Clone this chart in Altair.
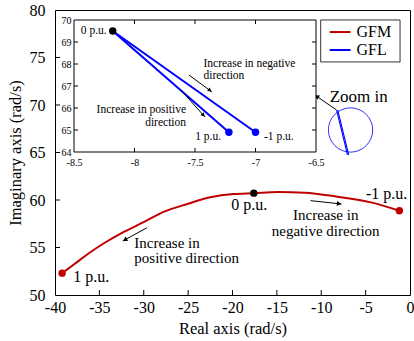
import math
import altair as alt
import pandas as pd

FONT = "Liberation Serif"
RED = "#c00000"
BLUE = "#0000ff"

# ---------------- data ----------------
# GFM locus (main axes)
gfm_re = [-39.2, -37.8, -36.3, -34.4, -32.55, -29.9, -27.7, -25.1, -22.5, -19.9, -17.6, -14.9, -11.9, -8.2, -4.4, -1.2]
gfm_im = [52.3, 53.26, 54.32, 55.5, 56.49, 57.72, 58.77, 59.58, 60.28, 60.63, 60.72, 60.84, 60.77, 60.35, 59.75, 58.87]
gfm_pt_re = [-39.2, -17.6, -1.2]
gfm_pt_im = [52.3, 60.72, 58.87]
gfm_pt_col = [RED, "black", RED]

# GFL locus (inset axes)
gfl_branch = ["pos", "pos", "neg", "neg"]
gfl_re = [-8.18, -7.22, -8.18, -7.0]
gfl_im = [69.5, 64.9, 69.5, 64.9]
gfl_pt_re = [-8.18, -7.22, -7.0]
gfl_pt_im = [69.5, 64.9, 64.9]
gfl_pt_col = ["black", BLUE, BLUE]

# main annotations
main_lab_left = {"x": [-37.95, -31.06, -31.06], "y": [51.93, 55.44, 53.86],
                 "t": ["1 p.u.", "Increase in", "positive direction"],
                 "s": [16, 15, 15]}
main_lab_center = {"x": [-18.1, -9.5, -9.5], "y": [59.47, 58.42, 56.74],
                   "t": ["0 p.u.", "Increase in", "negative direction"],
                   "s": [16, 15, 15]}
main_lab_right = {"x": [-0.3], "y": [60.63], "t": ["-1 p.u."], "s": [16]}
main_arrows = {"x0": [-11.21, -29.64, -8.27], "y0": [59.93, 57.08, 69.47],
               "x1": [-7.71, -32.37, -10.73], "y1": [59.58, 55.68, 71.05]}
zoom_text = {"x": [-9.05], "y": [70.84], "t": ["Zoom in"]}
zoom_circle = {"x": [-6.70], "y": [67.37]}
zoom_lines = {"x0": [-8.27, -8.14], "y0": [69.47, 69.47], "x1": [-7.04, -6.91], "y1": [64.74, 64.74]}

# legend
legend_names = ["GFM", "GFL"]
legend_colors = [RED, BLUE]
legend_y = [77.68, 75.79]
legend_box = {"x0": [-10.06], "x1": [-1.12], "y0": [74.53], "y1": [78.95]}
legend_line_x = [-9.05, -6.70]
legend_text_x = -6.03

# inset annotations
in_lab_left = {"x": [-7.43, -7.43, -6.93], "y": [68.02, 67.44, 64.68],
               "t": ["Increase in negative", "direction", "-1 p.u."]}
in_lab_right = {"x": [-8.23, -7.574, -7.574, -7.285], "y": [69.5, 65.92, 65.34, 64.68],
                "t": ["0 p.u.", "Increase in positive", "direction", "1 p.u."]}
in_arrows = {"x0": [-7.55, -7.61], "y0": [67.5, 66.77], "x1": [-7.36, -7.417], "y1": [66.73, 65.59]}

main_x_ticks = list(range(-40, 1, 5))
main_y_ticks = list(range(50, 81, 5))
in_x_ticks = [-8.5, -8, -7.5, -7, -6.5]
in_y_ticks = [64, 65, 66, 67, 68, 69, 70]

# ---------------- layout ----------------
W, H = 355, 285
MX, MY = [-40, 0], [50, 80]
IX, IY = [-8.5, -6.5], [64, 70]
IXR, IYR = [19, 261], [142, 10]
SXM, SYM = W / 40, H / 30
SXI, SYI = (IXR[1] - IXR[0]) / 2, (IYR[0] - IYR[1]) / 6
MINUS_FIX = "replace(datum.label, '\u2212', '-')"

msx = alt.Scale(domain=MX, nice=False, zero=False)
msy = alt.Scale(domain=MY, nice=False, zero=False)
isx = alt.Scale(domain=IX, range=IXR, nice=False, zero=False)
isy = alt.Scale(domain=IY, range=IYR, nice=False, zero=False)


def X(f, s, axis=None):
    return alt.X(f"{f}:Q", scale=s, axis=axis)


def Y(f, s, axis=None):
    return alt.Y(f"{f}:Q", scale=s, axis=axis)


def texts(d, xs, ys, align, size=None, field_size=False):
    df = pd.DataFrame(d)
    enc = dict(x=X("x", xs), y=Y("y", ys), text="t:N")
    if field_size:
        enc["size"] = alt.Size("s:Q", scale=None)
        m = alt.Chart(df).mark_text(align=align, baseline="middle", font=FONT, color="black")
    else:
        m = alt.Chart(df).mark_text(align=align, baseline="middle", font=FONT, color="black", fontSize=size)
    return m.encode(**enc)


def arrows(d, xs, ys, sxp, syp, head=26):
    df = pd.DataFrame(d)
    angs, hx, hy = [], [], []
    for x0, y0, x1, y1 in zip(df.x0, df.y0, df.x1, df.y1):
        dxp = (x1 - x0) * sxp
        dyp = -(y1 - y0) * syp
        L = math.hypot(dxp, dyp)
        angs.append(math.degrees(math.atan2(dxp, -dyp)) % 360)
        hx.append(x1 - dxp / L * 2.5 / sxp)
        hy.append(y1 + dyp / L * 2.5 / syp)
    df["ang"], df["hx"], df["hy"] = angs, hx, hy
    r = alt.Chart(df).mark_rule(color="black", strokeWidth=1).encode(
        x=X("x0", xs), y=Y("y0", ys), x2="x1", y2="y1")
    h = alt.Chart(df).mark_point(shape="triangle-up", filled=True, size=head, color="black", opacity=1).encode(
        x=X("hx", xs), y=Y("hy", ys), angle=alt.Angle("ang:Q", scale=None))
    return [r, h]


def ticks(vals, base, orient, off, xs, ys, size=5):
    df = pd.DataFrame({"v": vals, "b": [base] * len(vals)})
    if orient == "vertical":
        return alt.Chart(df).mark_tick(orient="vertical", size=size, thickness=1, color="black",
                                       yOffset=off, opacity=1).encode(x=X("v", xs), y=Y("b", ys))
    return alt.Chart(df).mark_tick(orient="horizontal", size=size, thickness=1, color="black",
                                   xOffset=off, opacity=1).encode(y=Y("v", ys), x=X("b", xs))


# ---------------- main layers ----------------
main_x_axis = alt.Axis(values=main_x_ticks, labelExpr=MINUS_FIX, title="Real axis (rad/s)",
                       orient="bottom", ticks=False, domain=False, grid=False,
                       labelFlush=False, labelOverlap=False,
                       labelFontSize=16, titleFontSize=16.5, labelPadding=4, titlePadding=5)
main_y_axis = alt.Axis(values=main_y_ticks, labelExpr=MINUS_FIX, title="Imaginary axis (rad/s)",
                       orient="left", ticks=False, domain=False, grid=False,
                       labelFlush=False, labelOverlap=False,
                       labelFontSize=16, titleFontSize=16.5, labelPadding=10, titlePadding=6)

gfm_df = pd.DataFrame({"re": gfm_re, "im": gfm_im})
gfm_line = alt.Chart(gfm_df).mark_line(color=RED, strokeWidth=2, interpolate="monotone").encode(
    x=X("re", msx, main_x_axis), y=Y("im", msy, main_y_axis))
gfm_pts = alt.Chart(pd.DataFrame({"re": gfm_pt_re, "im": gfm_pt_im, "c": gfm_pt_col})).mark_circle(
    size=55, opacity=1).encode(x=X("re", msx), y=Y("im", msy), color=alt.Color("c:N", scale=None))

main_layers = [gfm_line, gfm_pts,
               texts(main_lab_left, msx, msy, "left", field_size=True),
               texts(main_lab_center, msx, msy, "center", field_size=True),
               texts(main_lab_right, msx, msy, "right", field_size=True),
               texts(zoom_text, msx, msy, "left", size=17)]
main_layers += arrows(main_arrows, msx, msy, SXM, SYM)
main_layers.append(ticks(main_x_ticks[1:-1], 50, "vertical", -2.5, msx, msy))
main_layers.append(ticks(main_y_ticks[1:-1], -40, "horizontal", 2.5, msx, msy))
main_layers.append(alt.Chart(pd.DataFrame(zoom_circle)).mark_point(
    shape="circle", filled=False, size=1963, color=BLUE, strokeWidth=0.8, opacity=1).encode(
    x=X("x", msx), y=Y("y", msy)))
main_layers.append(alt.Chart(pd.DataFrame(zoom_lines)).mark_rule(color=BLUE, strokeWidth=1.1).encode(
    x=X("x0", msx), y=Y("y0", msy), x2="x1", y2="y1"))
# legend
main_layers.append(alt.Chart(pd.DataFrame(legend_box)).mark_rect(
    fill="white", stroke="#333333", strokeWidth=1).encode(x=X("x0", msx), x2="x1", y=Y("y0", msy), y2="y1"))
leg_df = pd.DataFrame({"name": legend_names, "c": legend_colors, "y": legend_y,
                       "x0": [legend_line_x[0]] * 2, "x1": [legend_line_x[1]] * 2,
                       "xt": [legend_text_x] * 2})
main_layers.append(alt.Chart(leg_df).mark_rule(strokeWidth=2).encode(
    x=X("x0", msx), x2="x1", y=Y("y", msy), color=alt.Color("c:N", scale=None)))
main_layers.append(alt.Chart(leg_df).mark_text(align="left", baseline="middle", font=FONT, fontSize=16,
                                               color="black").encode(
    x=X("xt", msx), y=Y("y", msy), text="name:N"))

# ---------------- inset layers ----------------
in_x_axis = alt.Axis(values=in_x_ticks, format="~g", labelExpr=MINUS_FIX, title=None, orient="bottom",
                     offset=-(H - IYR[0]), ticks=False, domain=False, grid=False,
                     labelFlush=False, labelOverlap=False,
                     labelFontSize=10, labelPadding=5)
in_y_axis = alt.Axis(values=in_y_ticks, format="~g", labelExpr=MINUS_FIX, title=None, orient="left",
                     offset=-IXR[0], ticks=False, domain=False, grid=False,
                     labelFlush=False, labelOverlap=False,
                     labelFontSize=10, labelPadding=3)

frame_df = pd.DataFrame({"x0": [IX[0]], "x1": [IX[1]], "y0": [IY[0]], "y1": [IY[1]]})
frame = alt.Chart(frame_df).mark_rect(fill="white", stroke="black", strokeWidth=1).encode(
    x=X("x0", isx, in_x_axis), x2="x1", y=Y("y0", isy, in_y_axis), y2="y1")
gfl_df = pd.DataFrame({"re": gfl_re, "im": gfl_im, "b": gfl_branch})
gfl_line = alt.Chart(gfl_df).mark_line(color=BLUE, strokeWidth=2).encode(
    x=X("re", isx), y=Y("im", isy), detail="b:N")
gfl_pts = alt.Chart(pd.DataFrame({"re": gfl_pt_re, "im": gfl_pt_im, "c": gfl_pt_col})).mark_circle(
    size=55, opacity=1).encode(x=X("re", isx), y=Y("im", isy), color=alt.Color("c:N", scale=None))

inset_layers = [frame, gfl_line, gfl_pts,
                texts(in_lab_left, isx, isy, "left", size=11.5),
                texts(in_lab_right, isx, isy, "right", size=11.5)]
inset_layers += arrows(in_arrows, isx, isy, SXI, SYI, head=20)
inset_layers.append(ticks(in_x_ticks[1:-1], 64, "vertical", -2, isx, isy, size=4))
inset_layers.append(ticks(in_x_ticks[1:-1], 70, "vertical", 2, isx, isy, size=4))
inset_layers.append(ticks(in_y_ticks[1:-1], -8.5, "horizontal", 2, isx, isy, size=4))
inset_layers.append(ticks(in_y_ticks[1:-1], -6.5, "horizontal", -2, isx, isy, size=4))

chart = alt.layer(*main_layers, *inset_layers).resolve_scale(
    x="independent", y="independent"
).properties(
    width=W, height=H,
    padding={"left": 55, "top": 10, "right": 4, "bottom": 46},
    autosize=alt.AutoSizeParams(type="none"),
    background="white",
).configure_view(stroke="black", strokeWidth=1).configure_axis(
    labelFont=FONT, titleFont=FONT, labelColor="black", titleColor="black", titleFontWeight="normal"
).configure_text(font=FONT)

chart.save("out.html", embed_options={"renderer": "svg", "actions": False})
